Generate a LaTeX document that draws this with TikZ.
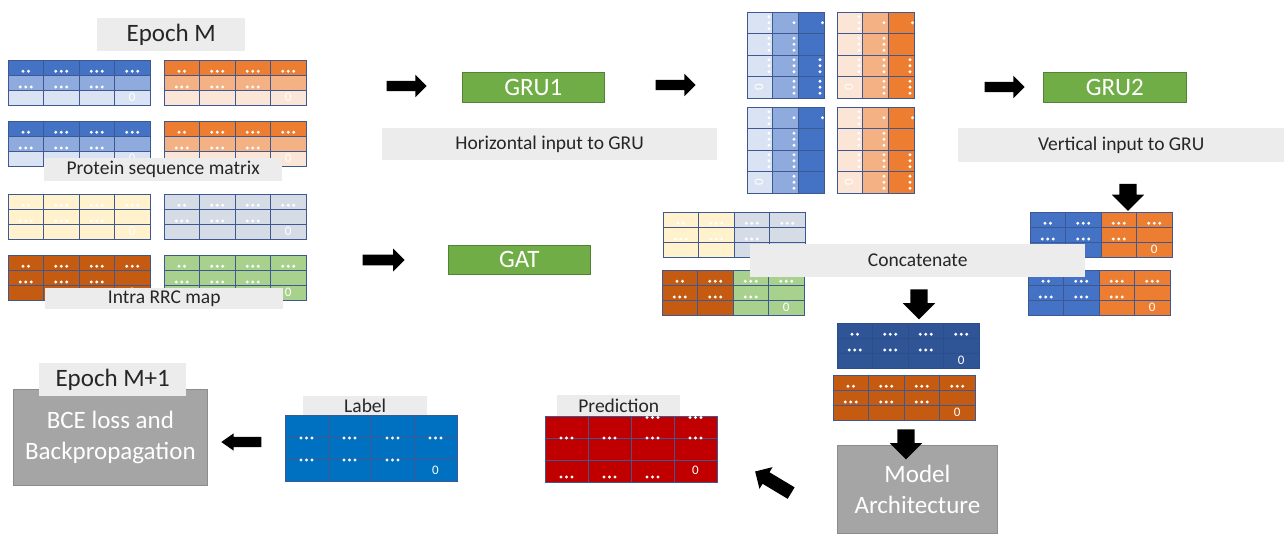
\documentclass[tikz,border=0pt]{standalone}
\usepackage{fontspec}
\setmainfont{Carlito}
\usepackage{tikz}
\usetikzlibrary{calc, shapes.arrows}
\definecolor{blueA}{RGB}{68,114,196}
\definecolor{blueB}{RGB}{143,170,220}
\definecolor{blueC}{RGB}{218,227,243}
\definecolor{orangeA}{RGB}{237,125,49}
\definecolor{orangeB}{RGB}{244,177,131}
\definecolor{orangeC}{RGB}{251,229,214}
\definecolor{rrcYellow}{RGB}{255,242,204}
\definecolor{rrcGray}{RGB}{214,220,229}
\definecolor{rrcBrown}{RGB}{197,90,17}
\definecolor{rrcGreen}{RGB}{169,209,142}
\definecolor{navy}{RGB}{47,85,151}
\definecolor{labelBlue}{RGB}{0,112,192}
\definecolor{predRed}{RGB}{192,0,0}
\definecolor{gruGreen}{RGB}{112,173,71}
\definecolor{gruLine}{RGB}{84,130,53}
\definecolor{tagGray}{RGB}{236,236,236}
\definecolor{boxGray}{RGB}{165,165,165}
\definecolor{boxLine}{RGB}{140,140,140}
\definecolor{gridBlue}{RGB}{62,88,146}
\definecolor{textDark}{RGB}{38,38,38}

% cell sizes (px)
\newcommand{\cellw}{35.5}
\newcommand{\cellh}{15}
\newcommand{\tcellw}{25.7}
\newcommand{\tcellh}{21.5}

% 4x3 matrix: name, x, y, row colours (left half, right half)
\newcommand{\hmat}[9]{%
  \fill[#4] (#2,#3) rectangle ({#2+2*\cellw},{#3+\cellh});
  \fill[#5] ({#2+2*\cellw},#3) rectangle ({#2+4*\cellw},{#3+\cellh});
  \fill[#6] (#2,{#3+\cellh}) rectangle ({#2+2*\cellw},{#3+2*\cellh});
  \fill[#7] ({#2+2*\cellw},{#3+\cellh}) rectangle ({#2+4*\cellw},{#3+2*\cellh});
  \fill[#8] (#2,{#3+2*\cellh}) rectangle ({#2+2*\cellw},{#3+3*\cellh});
  \fill[#9] ({#2+2*\cellw},{#3+2*\cellh}) rectangle ({#2+4*\cellw},{#3+3*\cellh});
  \foreach \i in {1,2,3} \draw[gridline] ({#2+\i*\cellw},#3) -- ++(0,{3*\cellh});
  \foreach \j in {1,2} \draw[gridline] (#2,{#3+\j*\cellh}) -- ++({4*\cellw},0);
  \node[matbox, minimum width=4*\cellw, minimum height=3*\cellh] (#1) at (#2,#3) {};
}

% 3x4 transposed matrix: name, x, y, column colours
\newcommand{\vmat}[6]{%
  \fill[#4] (#2,#3) rectangle ({#2+\tcellw},{#3+4*\tcellh});
  \fill[#5] ({#2+\tcellw},#3) rectangle ({#2+2*\tcellw},{#3+4*\tcellh});
  \fill[#6] ({#2+2*\tcellw},#3) rectangle ({#2+3*\tcellw},{#3+4*\tcellh});
  \foreach \i in {1,2} \draw[gridline] ({#2+\i*\tcellw},#3) -- ++(0,{4*\tcellh});
  \foreach \j in {1,2,3} \draw[gridline] (#2,{#3+\j*\tcellh}) -- ++({3*\tcellw},0);
  \node[matbox, minimum width=3*\tcellw, minimum height=4*\tcellh] (#1) at (#2,#3) {};
}

% white dots: count, matrix, dx, dy
\newcommand{\dotrow}[4]{%
  \foreach \k in {1,...,#1}
    \fill[white] ($(#2.north west)+({#3+(\k-(#1+1)/2)*5.5},{#4})$) circle (1.7);
}
\newcommand{\dotcol}[4]{%
  \foreach \k in {1,...,#1}
    \fill[white] ($(#2.north west)+({#3},{#4+(\k-(#1+1)/2)*6})$) circle (1.7);
}

\newcommand{\stddots}[1]{%
  \dotrow{2}{#1}{0.5*\cellw}{0.75*\cellh}
  \foreach \col in {1,2,3} {\dotrow{3}{#1}{(\col+0.5)*\cellw}{0.75*\cellh}}
  \foreach \col in {0,1,2} {\dotrow{3}{#1}{(\col+0.5)*\cellw}{1.8*\cellh}}
  \node[zero] (#1-zero) at ($(#1.north west)+({3.5*\cellw},{2.5*\cellh})$) {0};
}

\newcommand{\tdots}[1]{%
  \foreach \rw in {1,2,3} {\dotcol{3}{#1}{22}{(\rw-0.5)*\tcellh}}
  \node[zero, rotate=90] (#1-zero) at ($(#1.north west)+(12,{3.5*\tcellh})$) {0};
  \dotcol{1}{#1}{47}{0.5*\tcellh}
  \foreach \rw in {2,3,4} {\dotcol{3}{#1}{47}{(\rw-0.5)*\tcellh}}
  \dotcol{1}{#1}{75.5}{0.5*\tcellh}
}

\begin{document}
\begin{tikzpicture}[x=1pt, y=-1pt,
  gridline/.style={draw=gridBlue, line width=0.8pt},
  matbox/.style={gridline, inner sep=0pt, outer sep=0pt, anchor=north west},
  zero/.style={text=white, font=\fontsize{13}{13}\selectfont, inner sep=0pt},
  tag/.style={fill=tagGray, text=textDark, inner sep=0pt, anchor=north west,
    font=\fontsize{19.5}{22}\selectfont},
  bigtag/.style={tag, font=\fontsize{25}{28}\selectfont},
  layer/.style={fill=gruGreen, draw=gruLine, line width=0.6pt, text=white,
    inner sep=0pt, anchor=north west, font=\fontsize{25}{28}\selectfont},
  stage/.style={fill=boxGray, draw=boxLine, line width=0.8pt, text=white,
    inner sep=0pt, anchor=north west, align=center, font=\fontsize{25}{31}\selectfont},
  blockarrow/.style={single arrow, fill=black, inner xsep=0pt, inner ysep=5pt,
    minimum height=40pt, minimum width=22pt, single arrow head extend=6pt,
    single arrow tip angle=90},
  downarrow/.style={blockarrow, rotate=-90, inner ysep=8.5pt, minimum height=30pt,
    minimum width=32pt, single arrow head extend=7.5pt}]
  \useasboundingbox (0,0) rectangle (1284,533);

  % Epoch M: protein sequence matrices
  \node[bigtag, minimum width=148pt, minimum height=33pt] (epochM) at (97,18) {Epoch M};
  \hmat{seqA}{8}{60}{blueA}{blueA}{blueB}{blueB}{blueC}{blueC}
  \hmat{seqB}{164}{60}{orangeA}{orangeA}{orangeB}{orangeB}{orangeC}{orangeC}
  \hmat{seqC}{8}{121}{blueA}{blueA}{blueB}{blueB}{blueC}{blueC}
  \hmat{seqD}{164}{121}{orangeA}{orangeA}{orangeB}{orangeB}{orangeC}{orangeC}
  \foreach \m in {seqA,seqB,seqC,seqD} {\stddots{\m}}
  \node[tag, minimum width=238pt, minimum height=23pt] (seqtag) at (44,158) {Protein sequence matrix};

  % intra RRC maps
  \hmat{rrcA}{8}{194}{rrcYellow}{rrcYellow}{rrcYellow}{rrcYellow}{rrcYellow}{rrcYellow}
  \hmat{rrcB}{164}{194}{rrcGray}{rrcGray}{rrcGray}{rrcGray}{rrcGray}{rrcGray}
  \hmat{rrcC}{8}{255}{rrcBrown}{rrcBrown}{rrcBrown}{rrcBrown}{rrcBrown}{rrcBrown}
  \hmat{rrcD}{164}{255}{rrcGreen}{rrcGreen}{rrcGreen}{rrcGreen}{rrcGreen}{rrcGreen}
  \foreach \m in {rrcA,rrcB,rrcC,rrcD} {\stddots{\m}}
  \node[tag, minimum width=238pt, minimum height=21pt] (rrctag) at (45,288) {Intra RRC map};

  % GRU1 branch
  \node[blockarrow] (toGRU1) at (404,86) {};
  \node[layer, minimum width=142pt, minimum height=30pt] (gru1) at (462,72) {GRU1};
  \node[tag, minimum width=335pt, minimum height=32pt] (htag) at (382,128) {Horizontal input to GRU};
  \node[blockarrow] (fromGRU1) at (673,85) {};

  % transposed outputs of GRU1
  \vmat{hA}{747}{12}{blueC}{blueB}{blueA}
  \vmat{hB}{747}{107}{blueC}{blueB}{blueA}
  \vmat{hC}{837}{12}{orangeC}{orangeB}{orangeA}
  \vmat{hD}{837}{107}{orangeC}{orangeB}{orangeA}
  \foreach \m in {hA,hB,hC,hD} {\tdots{\m}}
  \foreach \m in {hA,hC,hD} {
    \dotcol{3}{\m}{73}{2.5*\tcellh}
    \dotcol{3}{\m}{73}{3.5*\tcellh}
  }

  % GRU2 branch
  \node[blockarrow] (toGRU2) at (1002,87) {};
  \node[layer, minimum width=143pt, minimum height=30pt] (gru2) at (1043,72) {GRU2};
  \node[tag, minimum width=326pt, minimum height=34pt] (vtag) at (958,128) {Vertical input to GRU};
  \node[downarrow, minimum height=27pt, minimum width=31pt] (fromGRU2) at (1128,193) {};

  % GAT branch
  \node[blockarrow, minimum height=42pt, minimum width=23pt] (toGAT) at (381,260) {};
  \node[layer, minimum width=142pt, minimum height=29pt] (gat) at (448,245) {GAT};

  % concatenation
  \hmat{catA}{663}{212}{rrcYellow}{rrcGray}{rrcYellow}{rrcGray}{rrcYellow}{rrcGray}
  \hmat{catB}{662}{270}{rrcBrown}{rrcGreen}{rrcBrown}{rrcGreen}{rrcBrown}{rrcGreen}
  \hmat{catC}{1030}{212}{blueA}{orangeA}{blueA}{orangeA}{blueA}{orangeA}
  \hmat{catD}{1028}{270}{blueA}{orangeA}{blueA}{orangeA}{blueA}{orangeA}
  \foreach \m in {catA,catB,catC,catD} {\stddots{\m}}
  \node[tag, minimum width=335pt, minimum height=33pt] (cattag) at (750,244) {Concatenate};
  \node[downarrow] (toCat) at (919,300) {};

  \begin{scope}[gridline/.style={draw=navy!92!black, line width=0.6pt}]
    \hmat{mixA}{837}{323}{navy}{navy}{navy}{navy}{navy}{navy}
  \end{scope}
  \hmat{mixB}{833}{375}{rrcBrown}{rrcBrown}{rrcBrown}{rrcBrown}{rrcBrown}{rrcBrown}
  \foreach \m in {mixA,mixB} {\stddots{\m}}

  % model and training loop
  \node[stage, minimum width=160pt, minimum height=88pt] (model) at (837,445) {Model\\Architecture};
  \node[downarrow] (toModel) at (906,440) {};
  \node[blockarrow, rotate=149, inner ysep=6.5pt, minimum height=42pt, minimum width=24pt] (toPred) at (776,484) {};

  \renewcommand{\cellw}{43}
  \renewcommand{\cellh}{22}
  \hmat{pred}{545}{416}{predRed}{predRed}{predRed}{predRed}{predRed}{predRed}
  \foreach \col in {2,3} {\dotrow{3}{pred}{(\col+0.5)*\cellw}{1.5}}
  \foreach \col in {0,1,2,3} {\dotrow{3}{pred}{(\col+0.5)*\cellw}{22}}
  \foreach \col in {0,1,2} {\dotrow{3}{pred}{(\col+0.5)*\cellw}{61}}
  \node[zero] (pred-zero) at ($(pred.north west)+({3.5*\cellw},54)$) {0};
  \node[tag, minimum width=123pt, minimum height=21pt] (predtag) at (557,395) {Prediction};

  \hmat{label}{285}{415}{labelBlue}{labelBlue}{labelBlue}{labelBlue}{labelBlue}{labelBlue}
  \foreach \col in {0,1,2,3} {\dotrow{3}{label}{(\col+0.5)*\cellw}{23}}
  \foreach \col in {0,1,2} {\dotrow{3}{label}{(\col+0.5)*\cellw}{45}}
  \node[zero] (label-zero) at ($(label.north west)+({3.5*\cellw},55)$) {0};
  \node[tag, minimum width=124pt, minimum height=19pt] (labeltag) at (303,396) {Label};

  \node[blockarrow, rotate=180, minimum width=17pt, single arrow head extend=3.5pt,
    single arrow tip angle=70] (toLoss) at (245,442) {};
  \node[stage, minimum width=194pt, minimum height=96pt] (loss) at (13,389) {BCE loss and\\Backpropagation};
  \node[bigtag, minimum width=147pt, minimum height=33pt] (epochM1) at (39,363) {Epoch M+1};
\end{tikzpicture}
\end{document}
